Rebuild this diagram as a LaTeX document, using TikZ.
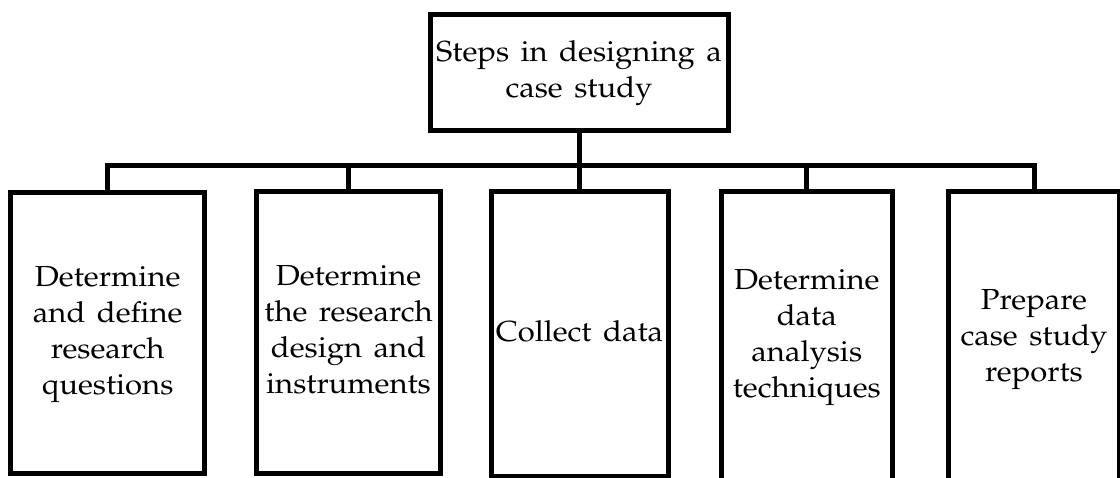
\documentclass[tikz,border=0pt]{standalone}
\usepackage[T1]{fontenc}
\usepackage{mathpazo}
\usepackage{graphicx}
\newcommand\stxt[1]{\spaceskip=0.37em plus 0.1em\relax\scalebox{1.07}[1]{\begin{tabular}{@{}c@{}}#1\end{tabular}}}
\tikzset{
  box/.style={draw=black, line width=5pt, fill=white, inner sep=0pt, line join=miter,
    font=\fontsize{29}{36}\selectfont, anchor=center},
  conn/.style={draw=black, line width=5pt, line join=miter}
}
\begin{document}
\begin{tikzpicture}[x=1pt,y=-1pt]
\clip (0,0) rectangle (1120,477);
\fill[white] (0,0) rectangle (1120,477);
\node[box, minimum width=298pt, minimum height=116pt] (top) at (579,72.5)
  {\stxt{Steps in designing a\\case study}};
\node[box, minimum width=193.7pt, minimum height=280.3pt] (b1) at (107.7,333)
  {\stxt{Determine\\and define\\research\\questions}};
\node[box, minimum width=184pt, minimum height=282pt] (b2) at (348.5,332.5)
  {\stxt{Determine\\the research\\design and\\instruments}};
\node[box, minimum width=177pt, minimum height=285pt] (b3) at (579.5,334)
  {\stxt{Collect data}};
\node[box, minimum width=171.5pt, minimum height=288.5pt] (b4) at (806.8,335.8)
  {\stxt{Determine\\data\\analysis\\techniques}};
\node[box, minimum width=171pt, minimum height=292.5pt] (b5) at (1034,337.8)
  {\stxt{Prepare\\case study\\reports}};
\coordinate (bus) at (579,165);
\draw[conn] (b1.north) |- (bus) -| (b5.north);
\draw[conn] (top.south) -- (bus);
\draw[conn] (b2.north) -- (b2.north |- bus);
\draw[conn] (b3.north) -- (b3.north |- bus);
\draw[conn] (b4.north) -- (b4.north |- bus);
\end{tikzpicture}
\end{document}
